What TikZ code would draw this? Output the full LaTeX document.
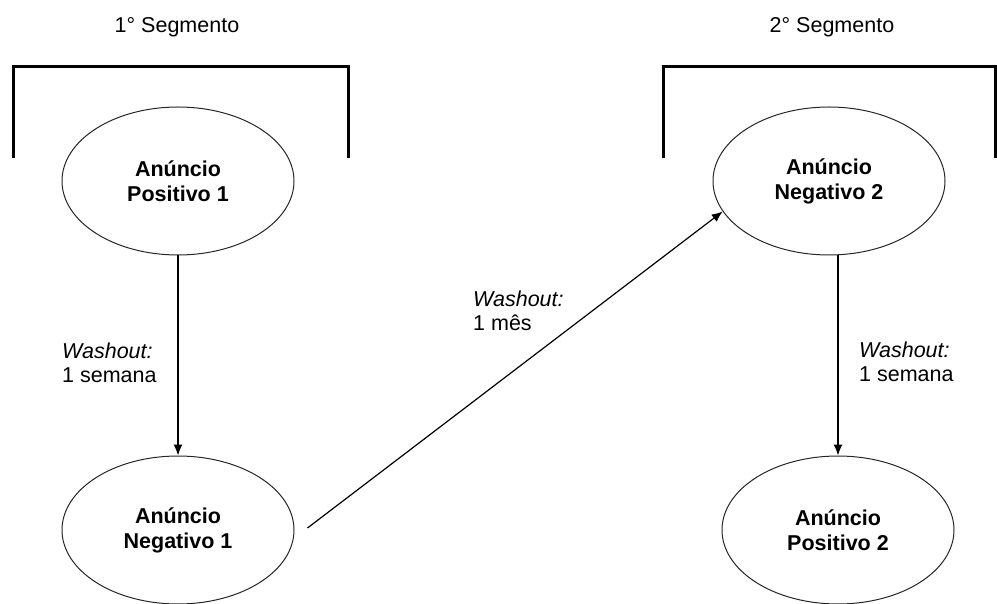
\documentclass[tikz,border=0pt]{standalone}
\usepackage{fontspec}
\setmainfont{Liberation Sans}
\usetikzlibrary{shapes.geometric,arrows.meta}
\begin{document}
\begin{tikzpicture}[x=1pt,y=-1pt,
  state/.style={ellipse,draw=black!85,line width=1pt,minimum width=232pt,minimum height=148pt,inner sep=0pt,align=center,font=\fontsize{21.5}{25}\selectfont\bfseries},
  lbl/.style={anchor=west,align=left,inner sep=0pt,font=\fontsize{21.5}{24}\selectfont},
  ttl/.style={inner sep=0pt,font=\fontsize{21.5}{24}\selectfont},
  flow/.style={line width=1.2pt,-{Latex[length=11pt,width=9pt]}},
  bracket/.style={line width=3pt}]
\useasboundingbox (0,0) rectangle (997,604);
\node[ttl] (t1) at (177,27) {1° Segmento};
\node[ttl] (t2) at (832,27) {2° Segmento};
\draw[bracket] (13,158) -- (13,67) -- (348,67) -- (348,158);
\draw[bracket] (663,158) -- (663,67) -- (995.5,67) -- (995.5,158);
\node[state] (p1) at (178,181) {Anúncio\\Positivo 1};
\node[state] (n1) at (178,530) {Anúncio\\Negativo 1};
\node[state] (n2) at (829,181) {Anúncio\\Negativo 2};
\node[state] (p2) at (838,530) {Anúncio\\Positivo 2};
\draw[flow] (p1.south) -- (n1.north);
\draw[flow] (p2.north |- n2.south) -- (p2.north);
\coordinate (s) at ([xshift=13pt,yshift=2pt]n1.east);
\draw[flow] (s) -- (n2.196);
\node[lbl] (l1) at (62,363) {\textit{Washout:}\\1 semana};
\node[lbl] (l2) at (473,311) {\textit{Washout:}\\1 mês};
\node[lbl] (l3) at (859,362) {\textit{Washout:}\\1 semana};
\end{tikzpicture}
\end{document}
